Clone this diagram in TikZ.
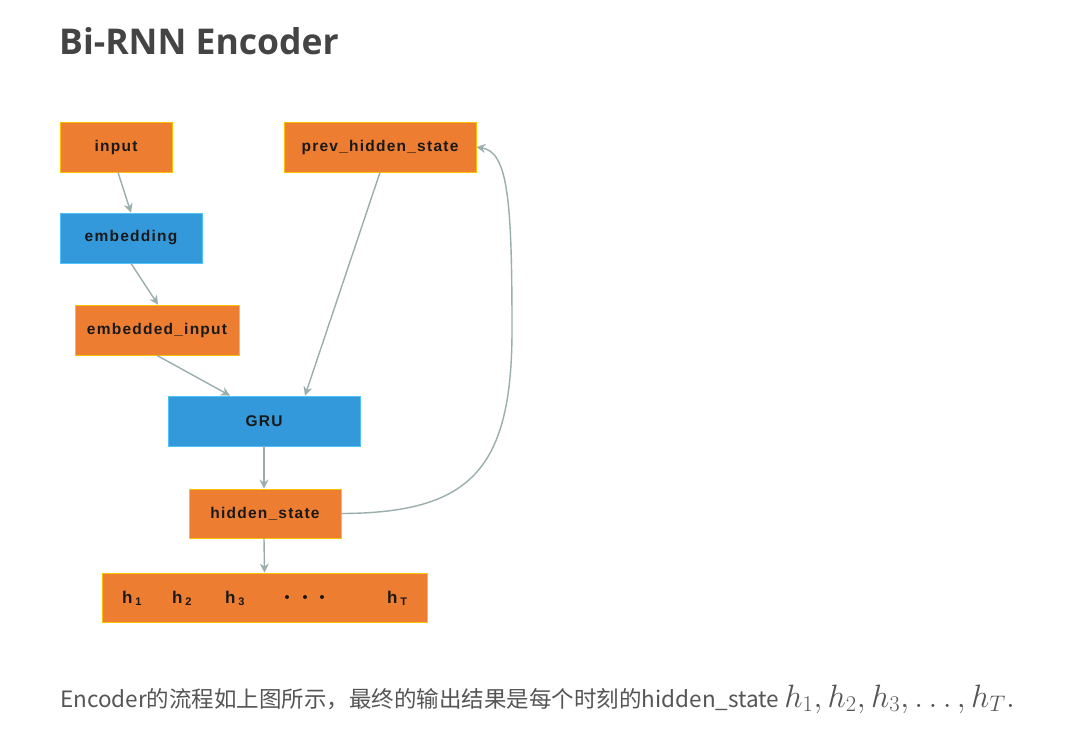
\documentclass[tikz,border=0pt]{standalone}
\usepackage{graphicx}
\usepackage{fontspec}
\setmainfont{Liberation Sans}
\newfontfamily\titlefont{Open Sans}
\newfontfamily\boxfont[LetterSpace=8]{Liberation Sans}
\newfontfamily\cjkfont{Noto Sans CJK SC}
\usetikzlibrary{arrows.meta,calc}
\definecolor{boxorange}{HTML}{ED7D31}
\definecolor{boxblue}{HTML}{3399DB}
\definecolor{edgegold}{HTML}{FFC000}
\definecolor{edgecyan}{HTML}{4FC3F7}
\definecolor{flowgray}{HTML}{9AAEAE}
\definecolor{titlegray}{HTML}{444444}
\definecolor{textgray}{HTML}{555555}
\newcommand{\hsub}[1]{\,\raisebox{-2pt}{\fontsize{11}{12}\selectfont #1}}
\tikzset{
	obox/.style={draw=edgegold, fill=boxorange, line width=0.8pt, inner sep=0pt,
		font=\boxfont\bfseries\fontsize{15.5}{17}\selectfont, text=black!90},
	bbox/.style={draw=edgecyan, fill=boxblue, line width=0.8pt, inner sep=0pt,
		font=\boxfont\bfseries\fontsize{15.5}{17}\selectfont, text=black!90},
	flow/.style={draw=flowgray, line width=1.4pt, -{Stealth[length=9pt,width=9pt]}},
	hlab/.style={anchor=base west, inner sep=0pt, font=\bfseries\fontsize{17}{19}\selectfont, text=black!90}
}
\begin{document}
\begin{tikzpicture}[x=1pt, y=-1pt]
		%%%%% START %%%%%
		\useasboundingbox[fill=white] (0, 0) rectangle (1070, 729);
		
		\node[anchor=base west, inner sep=0pt, text=titlegray, font=\titlefont\bfseries\fontsize{35.5}{40}\selectfont] (title) at (59, 54) {Bi-RNN Encoder};
		
		% boxes
		\node[obox, minimum width=112pt, minimum height=50pt] (input) at (116, 147) {input};
		\node[obox, minimum width=192pt, minimum height=50pt] (prev) at (380, 147) {prev\_hidden\_state};
		\node[bbox, minimum width=142pt, minimum height=50pt] (emb) at (131, 238) {embedding};
		\node[obox, minimum width=164pt, minimum height=50pt] (embin) at (157, 330) {embedded\_input};
		\node[bbox, minimum width=192pt, minimum height=50pt] (gru) at (264, 421) {GRU};
		\node[obox, minimum width=152pt, minimum height=49pt] (hs) at (265, 513.5) {hidden\_state};
		\node[obox, minimum width=325pt, minimum height=49pt] (hrow) at (264.5, 597.5) {};
		
		% outputs in the last box
		\node[hlab] (h1) at (122, 603) {h\hsub{1}};
		\node[hlab] (h2) at (172, 603) {h\hsub{2}};
		\node[hlab] (h3) at (225, 603) {h\hsub{3}};
		\foreach \x in {287, 305, 322} \fill[black!90] (\x, 597) circle (2);
		\node[hlab] (hT) at (387, 603) {h\hsub{T}};
		
		% connectors
		\draw[flow] ($(input.south)+(2, 0)$) -- (emb.north);
		\draw[flow] (emb.south) -- ($(embin.north)+(1, 0)$);
		\draw[flow] (embin.south) -- ($(gru.north)+(-34, 0)$);
		\draw[flow] (prev.south) -- ($(gru.north)+(41, 0)$);
		\draw[flow] (gru.south) -- ($(hs.north)+(-1, 0)$);
		\draw[flow] ($(hs.south)+(-1, 0)$) -- (hrow.north);
		\draw[flow] (hs.east) .. controls (470, 513) and (512, 470) .. (512, 330)
			.. controls (512, 200) and (508, 152) .. (prev.east);
		
		% caption
		\node[anchor=base west, inner sep=0pt, text=textgray, font=\cjkfont\fontsize{22.5}{26}\selectfont] (caption) at (60, 707)
			{Encoder的流程如上图所示，最终的输出结果是每个时刻的hidden\_state {\fontsize{27}{30}\selectfont\scalebox{1.3}{$h_1,h_2,h_3,\ldots,h_T.$}}};
		%%%%% END %%%%%
\end{tikzpicture}
\end{document}
